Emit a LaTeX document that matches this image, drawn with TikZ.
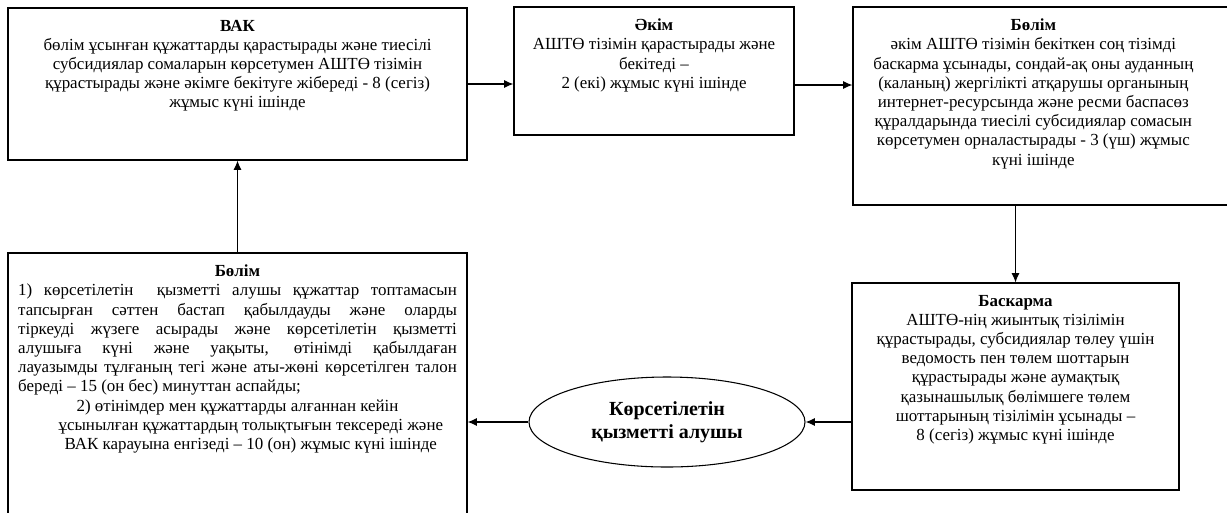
\documentclass[tikz,border=0pt]{standalone}
\usepackage{fontspec}
\setmainfont{Liberation Serif}
\usetikzlibrary{positioning,shapes.geometric,arrows.meta}

\begin{document}
\begin{tikzpicture}
[x=0.75pt,y=-0.75pt,line width=0.8pt,
every node/.style={font=\fontsize{12.7}{14.4}\selectfont},
box/.style={draw,rectangle,inner sep=0pt},
boxtext/.style={inner sep=0pt,align=center},
arr/.style={-{Latex[length=7pt,width=6pt]}}]
\useasboundingbox (0,0) rectangle (1227,512);
\node[box,minimum width=344.25pt,minimum height=114pt] (vak) at (237.5,84) {};
\node[box,minimum width=210pt,minimum height=96pt] (akim) at (654,71) {};
\node[box,minimum width=286.5pt,minimum height=148.5pt] (bolim) at (1044,106) {};
\node[box,minimum width=245.25pt,minimum height=155.25pt] (bask) at (1015.5,386.5) {};
\node[box,minimum width=344.25pt,minimum height=211.5pt] (qabyl) at (237.5,394) {};
\node[draw,ellipse,minimum width=207pt,minimum height=67.5pt,inner sep=0pt,align=center,
  font=\fontsize{15}{17}\selectfont\bfseries] (alushy) at (667,422) {Көрсетілетін\\қызметті алушы};
\node[boxtext,below=9pt of vak.north] (vaktext) {\textbf{ВАК}\\
бөлім ұсынған құжаттарды қарастырады және тиесілі\\
субсидиялар сомаларын көрсетумен АШТӨ тізімін\\
құрастырады және әкімге бекітуге жібереді - 8 (сегіз)\\
жұмыс күні ішінде};
\node[boxtext,below=9pt of akim.north] (akimtext) {\textbf{Әкім}\\
АШТӨ тізімін қарастырады және\\
бекітеді –\\
2 (екі) жұмыс күні ішінде};
\node[boxtext,below=9pt of bolim.north,xshift=-8pt] (bolimtext) {\textbf{Бөлім}\\
әкім АШТӨ тізімін бекіткен соң тізімді\\
баскарма ұсынады, сондай-ақ оны ауданның\\
(каланың) жергілікті атқарушы органының\\
интернет-ресурсында және ресми баспасөз\\
құралдарында тиесілі субсидиялар сомасын\\
көрсетумен орналастырады - 3 (үш) жұмыс\\
күні ішінде};
\node[boxtext,below=9pt of bask.north] (basktext) {\textbf{Баскарма}\\
АШТӨ-нің жиынтық тізілімін\\
құрастырады, субсидиялар төлеу үшін\\
ведомость пен төлем шоттарын\\
құрастырады және аумақтық\\
қазынашылық бөлімшеге төлем\\
шоттарының тізілімін ұсынады –\\
8 (сегіз) жұмыс күні ішінде};
\node[inner sep=0pt,text width=329pt,align=justify,below=9pt of qabyl.north] (qabyltext)
{{\centering\textbf{Бөлім}\par}
1) көрсетілетін \ қызметті алушы құжаттар топтамасын\linebreak
тапсырған сәттен бастап қабылдауды және оларды\linebreak
тіркеуді жүзеге асырады және көрсетілетін қызметті\linebreak
алушыға күні және уақыты, өтінімді қабылдаған\linebreak
лауазымды тұлғаның тегі және аты-жөні көрсетілген талон\linebreak
береді – 15 (он бес) минуттан аспайды;\par
{\centering 2) өтінімдер мен құжаттарды алғаннан кейін\\
\hspace*{20pt}ұсынылған құжаттардың толықтығын тексереді және\\
\hspace*{20pt}ВАК карауына енгізеді – 10 (он) жұмыс күні ішінде\par}};
\draw[arr] (vak.east |- 0,84) -- (akim.west |- 0,84);
\draw[arr] (akim.east |- 0,85) -- (bolim.west |- 0,85);
\draw[arr] (bolim.south -| bask.north) -- (bask.north);
\draw[arr] (alushy.east -| bask.west) -- (alushy.east);
\draw[arr] (alushy.west) -- (alushy.west -| qabyl.east);
\draw[arr] (qabyl.north) -- (vak.south);
\end{tikzpicture}
\end{document}
